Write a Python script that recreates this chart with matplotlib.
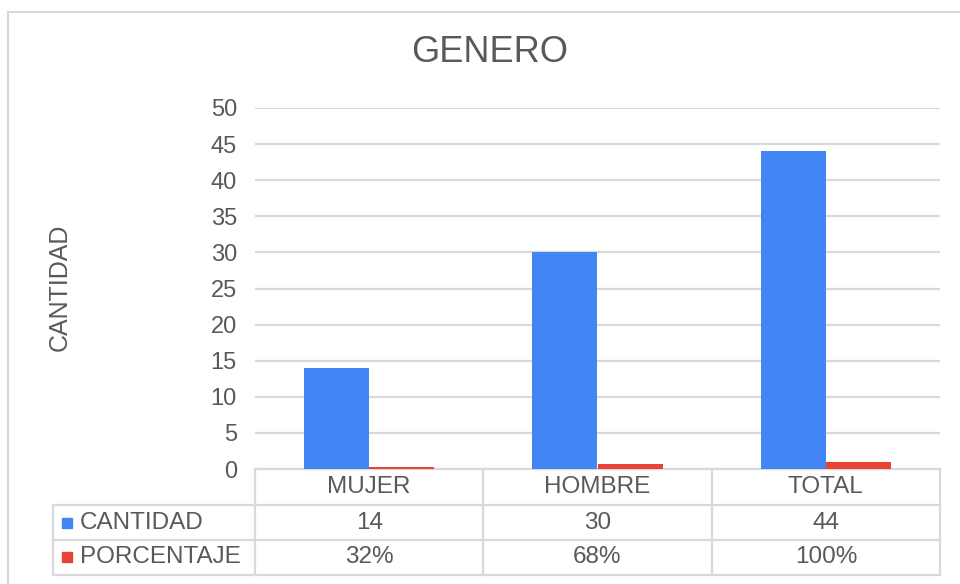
import matplotlib.pyplot as plt
import matplotlib.transforms as mtransforms
from matplotlib.patches import Rectangle
import numpy as np

plt.rcParams['font.family'] = ['Liberation Sans', 'DejaVu Sans']

categories = ['MUJER', 'HOMBRE', 'TOTAL']
cantidad = [14, 30, 44]
porcentaje = [0.32, 0.68, 1.00]
series_names = ['CANTIDAD', 'PORCENTAJE']
series_colors = ['#4285F4', '#EA4335']
txt = '#595959'
grid = '#D9D9D9'

fig = plt.figure(figsize=(9.6, 5.84), dpi=100)
ax = fig.add_axes([255 / 960, 1 - 469 / 584, 685 / 960, 361 / 584])

x = np.arange(len(categories))
w = 0.285
ax.bar(x - w / 2, cantidad, w, color=series_colors[0], zorder=3)
ax.bar(x + w / 2, porcentaje, w, color=series_colors[1], zorder=3)

ax.set_xlim(-0.5, len(categories) - 0.5)
ax.set_ylim(0, 50)
ax.set_yticks(np.arange(0, 51, 5))
ax.set_xticks([])
ax.tick_params(axis='y', length=0, pad=13, labelsize=17, labelcolor=txt)
ax.grid(axis='y', color=grid, linewidth=1.6, zorder=0)
for s in ax.spines.values():
    s.set_visible(False)

# data table under the plot
tr = mtransforms.blended_transform_factory(ax.transData, ax.transAxes)
rows_y = [0, -0.0997, -0.1967, -0.2936]
left = -0.5 - 202 / 228.33
right = len(categories) - 0.5
lk = dict(color=grid, linewidth=1.6, transform=tr, clip_on=False, zorder=1)
ax.plot([-0.5, right], [rows_y[0]] * 2, **lk)
for yy in rows_y[1:]:
    ax.plot([left, right], [yy] * 2, **lk)
ax.plot([left, left], [rows_y[1], rows_y[3]], **lk)
for xb in np.arange(-0.5, right + 0.01, 1):
    ax.plot([xb, xb], [rows_y[0], rows_y[3]], **lk)

tk = dict(transform=tr, ha='center', va='center', fontsize=17.5, color=txt, clip_on=False)
for i, c in enumerate(categories):
    ax.text(i, (rows_y[0] + rows_y[1]) / 2, c, **tk)
    ax.text(i, (rows_y[1] + rows_y[2]) / 2, f'{cantidad[i]}', **tk)
    ax.text(i, (rows_y[2] + rows_y[3]) / 2, f'{porcentaje[i]:.0%}', **tk)

for j, (name, col) in enumerate(zip(series_names, series_colors)):
    yc = (rows_y[j + 1] + rows_y[j + 2]) / 2
    ax.plot([-0.5 - 187.5 / 228.33], [yc], marker='s', markersize=7.5, color=col,
            transform=tr, clip_on=False, linestyle='none')
    ax.text(-0.5 - 175 / 228.33, yc, name, transform=tr, ha='left', va='center',
            fontsize=17.5, color=txt, clip_on=False)

fig.text(490 / 960, 1 - 52 / 584, 'GENERO', ha='center', va='center', fontsize=26, color=txt)
fig.text(60 / 960, 1 - 287 / 584, 'CANTIDAD', rotation=90, ha='center', va='center',
         fontsize=18, color=txt)

# chart frame
fig.patches.append(Rectangle((8 / 960, -0.1), 1.2, 1 - 12 / 584 + 0.1, transform=fig.transFigure,
                             fill=False, edgecolor=grid, linewidth=1.5))

fig.savefig('out.png', dpi=100)
